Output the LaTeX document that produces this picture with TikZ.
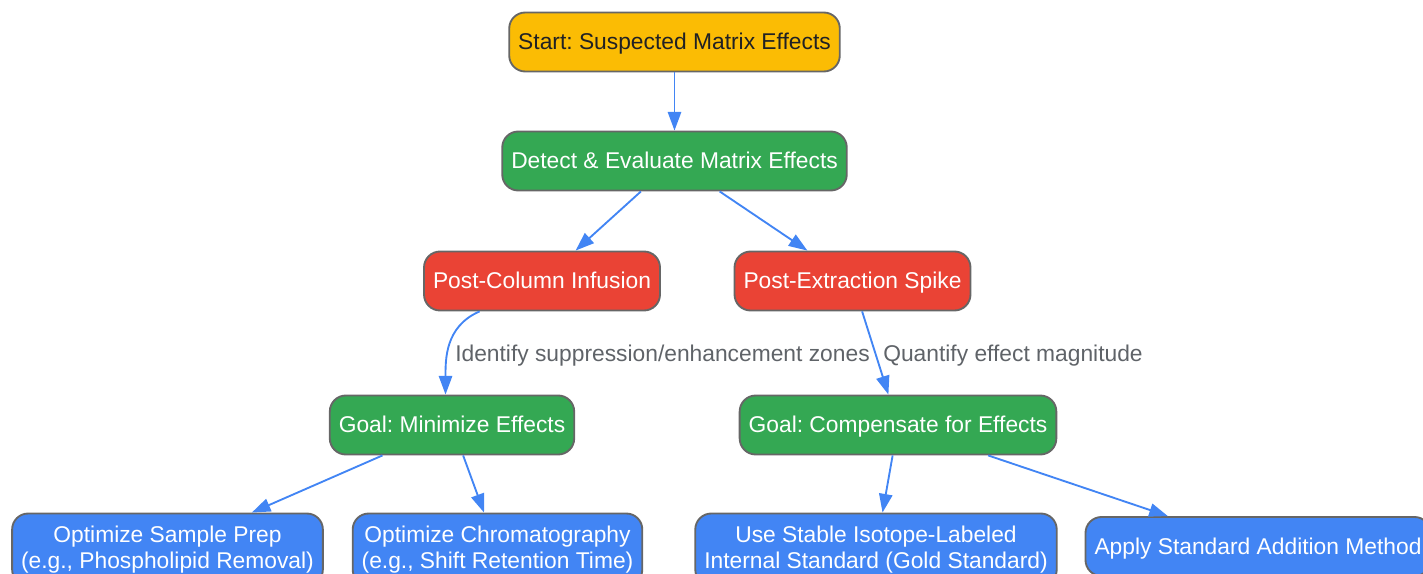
\documentclass[tikz,border=0pt]{standalone}
\usepackage{fontspec}
\setmainfont{Liberation Sans}
\usetikzlibrary{arrows.meta}
\definecolor{gyellow}{HTML}{FBBC04}
\definecolor{ggreen}{HTML}{34A853}
\definecolor{gred}{HTML}{EA4335}
\definecolor{gblue}{HTML}{4285F4}
\definecolor{edgeblue}{HTML}{4285F4}
\definecolor{nodeline}{HTML}{666666}
\definecolor{labelgray}{HTML}{5F6368}
\definecolor{darktext}{HTML}{202124}
\newcommand{\nodefont}{\fontsize{17.1pt}{19.5pt}\selectfont}
\frenchspacing

\begin{document}
\begin{tikzpicture}[x=0.75pt, y=-0.75pt,
    box/.style={rectangle, rounded corners=12pt, draw=nodeline, line width=1.4pt, minimum height=44.25pt, inner xsep=6.75pt, text=white, font=\nodefont},
    onebox/.style={box, text height=11.8pt, text depth=0pt},
    twobox/.style={box, align=center, minimum height=54pt},
    arr/.style={-{Triangle[length=14pt, width=10pt]}, line width=1.4pt, edgeblue},
    elabel/.style={text=labelgray, font=\nodefont, text height=11.8pt, text depth=0pt, inner sep=0pt}]
  \useasboundingbox (0,0) rectangle (1423,574);

  % Detection
  \node[onebox, fill=gyellow, text=darktext] (start) at (674.5,42) {Start: Suspected Matrix Effects};
  \node[onebox, fill=ggreen] (detect) at (674.5,161) {Detect \& Evaluate Matrix Effects};
  \node[onebox, fill=gred] (pci) at (542,281) {Post-Column Infusion};
  \node[onebox, fill=gred] (pes) at (852.5,281) {Post-Extraction Spike};

  % Goals
  \node[onebox, fill=ggreen] (gmin) at (452,425) {Goal: Minimize Effects};
  \node[onebox, fill=ggreen] (gcomp) at (898,425) {Goal: Compensate for Effects};

  % Strategies
  \node[twobox, fill=gblue] (prep) at (167.5,549.5) {Optimize Sample Prep\\(e.g., Phospholipid Removal)};
  \node[twobox, fill=gblue] (chrom) at (497.5,549.5) {Optimize Chromatography\\(e.g., Shift Retention Time)};
  \node[twobox, fill=gblue] (silis) at (876,549.5) {Use Stable Isotope-Labeled\\Internal Standard (Gold Standard)};
  \node[onebox, fill=gblue] (stdadd) at (1258,546.5) {Apply Standard Addition Method};

  % Edge labels
  \node[elabel, anchor=west] (lblzones) at (455,354) {Identify suppression/enhancement zones};
  \node[elabel, anchor=west] (lblmag) at (883,354) {Quantify effect magnitude};

  \draw[arr] (start) -- (detect);
  \draw[arr] (detect) -- (pci);
  \draw[arr] (detect) -- (pes);
  \draw[arr] (pci.206) .. controls +(-35,15) and +(0,-34) .. (gmin.102);
  \draw[arr] (pes) -- (gcomp);
  \draw[arr] (gmin) -- (prep);
  \draw[arr] (gmin) -- (chrom);
  \draw[arr] (gcomp) -- (silis);
  \draw[arr] (gcomp) -- (stdadd);
\end{tikzpicture}
\end{document}
